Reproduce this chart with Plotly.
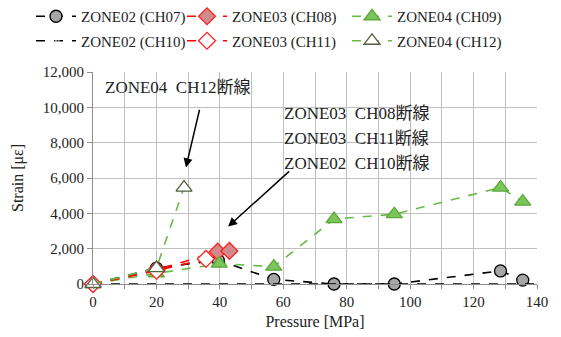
import plotly.graph_objects as go

# ---- data ----
ch07_x = [0, 20, 39.5, 57, 76, 95, 128.5, 135.5]
ch07_y = [0, 900, 1350, 260, 0, 0, 740, 220]

ch08_x = [0, 20, 39.3, 43]
ch08_y = [0, 800, 1830, 1870]

ch09_x = [0, 20, 39.8, 57, 76, 95, 128.5, 135.5]
ch09_y = [0, 600, 1150, 980, 3670, 3950, 5460, 4660]

ch10_x = [0, 140]
ch10_y = [0, 0]

ch11_x = [0, 20, 35.6]
ch11_y = [0, 750, 1420]

ch12_x = [0, 20, 28.7]
ch12_y = [0, 900, 5460]

x_tickvals = [0, 10, 20, 30, 40, 50, 60, 70, 80, 90, 100, 110, 120, 130, 140]
x_ticktext = ["0", "", "20", "", "40", "", "60", "", "80", "", "100", "", "120", "", "140"]

SERIF = "'Liberation Serif', 'Times New Roman', 'Noto Sans CJK JP', serif"
GREEN = "#66bb44"
fig = go.Figure()

def add(x, y, name, line_color, sym, fill, border, size, legend, msize=None):
    fig.add_trace(go.Scatter(
        x=x, y=y, name=name, mode="lines+markers", cliponaxis=False,
        legend=legend, legendgroup=name,
        line=dict(color=line_color, dash="dash", width=1.6),
        marker=dict(symbol=sym, color=fill, size=msize if msize is not None else size,
                    line=dict(color=border, width=1.3)),
    ))

add(ch07_x, ch07_y, "ZONE02 (CH07)", "#000000", "circle", "#a6a6a6", "#000000", 12, "legend")
add(ch08_x, ch08_y, "ZONE03 (CH08)", "#ff0000", "diamond", "#d08a8a", "#ff2020", 13, "legend2")
add(ch09_x, ch09_y, "ZONE04 (CH09)", GREEN, "triangle-up", "#7cc45c", "#5aa83a", 14, "legend3")
add(ch10_x, ch10_y, "ZONE02 (CH10)", "#000000", "circle-open-dot", "#ffffff", "#000000", 12, "legend", [12, 0])
add(ch11_x, ch11_y, "ZONE03 (CH11)", "#ff0000", "diamond", "#ffffff", "#ff2020", 13, "legend2")
add(ch12_x, ch12_y, "ZONE04 (CH12)", GREEN, "triangle-up", "#ffffff", "#55603f", 14, "legend3")

ann_font = dict(family=SERIF, size=17, color="#222222")
annotations = [
    dict(x=3.2, y=11100, text="ZONE04  CH12断線", showarrow=False, xanchor="left", yanchor="middle", font=ann_font),
    dict(x=59.5, y=9650, text="ZONE03  CH08断線", showarrow=False, xanchor="left", yanchor="middle", font=ann_font),
    dict(x=59.5, y=8230, text="ZONE03  CH11断線", showarrow=False, xanchor="left", yanchor="middle", font=ann_font),
    dict(x=59.5, y=6810, text="ZONE02  CH10断線", showarrow=False, xanchor="left", yanchor="middle", font=ann_font),
    dict(x=29.3, y=6600, ax=33.7, ay=9950, axref="x", ayref="y", text="", showarrow=True,
         arrowhead=2, arrowsize=1.2, arrowwidth=1.5, arrowcolor="#000000"),
    dict(x=42.6, y=3250, ax=62.3, ay=6450, axref="x", ayref="y", text="", showarrow=True,
         arrowhead=2, arrowsize=1.2, arrowwidth=1.5, arrowcolor="#000000"),
    # y-axis title
    dict(x=(18 - 93) / (561 - 93 - 24), y=0.5, xref="paper", yref="paper", text="Strain [με]",
         showarrow=False, textangle=-90, xanchor="center", yanchor="middle",
         font=dict(family=SERIF, size=16, color="#222222")),
]

def leg(xpx):
    return dict(orientation="v", x=xpx / 561, xanchor="left", xref="container",
                y=1.012, yanchor="top", yref="container",
                font=dict(family=SERIF, size=15, color="#222222"),
                tracegroupgap=2, itemwidth=40, traceorder="grouped",
                bgcolor="rgba(0,0,0,0)")

fig.update_layout(
    width=561, height=337,
    margin=dict(l=93, r=24, t=72, b=53, autoexpand=False),
    paper_bgcolor="white", plot_bgcolor="white",
    font=dict(family=SERIF, size=15, color="#222222"),
    showlegend=True,
    legend=leg(31), legend2=leg(182), legend3=leg(347),
    annotations=annotations,
    xaxis=dict(range=[0, 140], tickvals=x_tickvals, ticktext=x_ticktext, showgrid=True,
               gridcolor="#bfbfbf", gridwidth=1, tickfont=dict(size=15),
               showline=True, linecolor="#8c8c8c", ticks="outside", ticklen=4, tickcolor="#8c8c8c",
               zeroline=False, title=dict(text="Pressure [MPa]", standoff=6, font=dict(size=16))),
    yaxis=dict(range=[0, 12000], dtick=2000, tickformat=",d", showgrid=True, gridcolor="#bfbfbf",
               gridwidth=1, tickfont=dict(size=15), showline=True, linecolor="#8c8c8c",
               ticks="outside", ticklen=5, tickcolor="#8c8c8c", zeroline=False),
)

fig.write_html("out.html", config={"displayModeBar": False},
               post_script="document.body.style.margin='0';")
